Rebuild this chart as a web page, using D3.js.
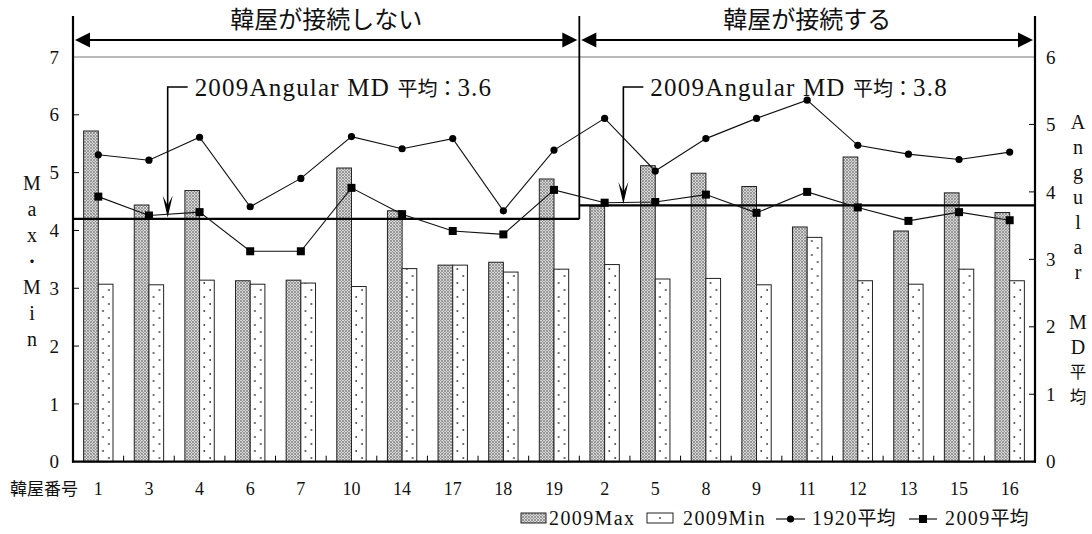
<!DOCTYPE html>
<html>
<head>
<meta charset="utf-8">
<script src="https://cdn.jsdelivr.net/npm/d3@7/dist/d3.min.js"></script>
<style>
  html, body { margin: 0; padding: 0; background: #fff; }
  svg { display: block; }
  text, tspan { font-family: "Liberation Serif", "Noto Sans CJK JP", serif; fill: #111; }
  .cjk { font-family: "Noto Sans CJK JP", sans-serif; letter-spacing: 0; }
</style>
</head>
<body>
<svg id="chart" width="1092" height="534"></svg>
<script>
// 韓屋番号 (house numbers), in drawing order
const houses = ["1","3","4","6","7","10","14","17","18","19","2","5","8","9","11","12","13","15","16"];

// Groups along the x axis
const groupLabels = ["韓屋が接続しない", "韓屋が接続する"];
const groupSizes  = [10, 9];
const groupMeans  = [3.6, 3.8];   // 2009 Angular MD 平均 for each group

// Left axis: Max / Min
const max2009 = [5.72,4.44,4.69,3.13,3.14,5.08,4.34,3.40,3.45,4.89, 4.42,5.12,4.99,4.76,4.06,5.27,3.99,4.65,4.31];
const min2009 = [3.07,3.06,3.14,3.07,3.09,3.03,3.34,3.40,3.28,3.33, 3.41,3.16,3.17,3.06,3.88,3.13,3.07,3.33,3.13];

// Right axis: Angular MD averages
const avg1920 = [4.55,4.47,4.81,3.78,4.20,4.82,4.64,4.79,3.72,4.62, 5.09,4.31,4.79,5.09,5.36,4.69,4.56,4.48,4.59];
const avg2009 = [3.93,3.65,3.70,3.12,3.12,4.06,3.67,3.42,3.37,4.03, 3.84,3.85,3.96,3.69,4.00,3.77,3.57,3.70,3.58];

const leftTicks  = [0,1,2,3,4,5,6,7];
const rightTicks = [0,1,2,3,4,5,6];
const leftTitle  = ["M","a","x","・","M","i","n"];
const rightTitle = ["A","n","g","u","l","a","r"," ","M","D","平","均"];
const legendLabels = ["2009Max", "2009Min", "1920平均", "2009平均"];

const svg = d3.select("#chart");

const x0 = 73, x1 = 1035, yTop = 57, yBase = 461.7, yHead = 16;

const x = d3.scaleBand().domain(houses).range([x0, x1]).paddingInner(0.42).paddingOuter(0.21);
const xs = d3.scaleBand().domain(["max","min"]).range([0, x.bandwidth()]);
const yL = d3.scaleLinear().domain([0, 7]).range([yBase, yTop]);
const yR = d3.scaleLinear().domain([0, 6]).range([yBase, yTop]);
const cx = h => x(h) + x.bandwidth() / 2;
const isCJK = s => /[\u3000-\u9fff]/.test(s);

// ---- patterns
const defs = svg.append("defs");
const pMax = defs.append("pattern").attr("id", "pMax").attr("patternUnits", "userSpaceOnUse")
  .attr("width", 3).attr("height", 3);
pMax.append("rect").attr("width", 3).attr("height", 3).attr("fill", "#d8d8d8");
pMax.append("circle").attr("cx", 1).attr("cy", 1).attr("r", 0.8).attr("fill", "#444");
pMax.append("circle").attr("cx", 2.5).attr("cy", 2.5).attr("r", 0.5).attr("fill", "#777");

const step = x.step();
const minOff = x.paddingOuter() * step + xs("min");
const pMin = defs.append("pattern").attr("id", "pMin").attr("patternUnits", "userSpaceOnUse")
  .attr("x", x0).attr("y", 0).attr("width", step).attr("height", 14);
pMin.append("rect").attr("width", step).attr("height", 14).attr("fill", "#fff");
pMin.append("circle").attr("cx", minOff + xs.bandwidth() * 0.32).attr("cy", 3).attr("r", 0.9).attr("fill", "#333");
pMin.append("circle").attr("cx", minOff + xs.bandwidth() * 0.72).attr("cy", 10).attr("r", 0.9).attr("fill", "#333");

// ---- top gridline (value 7)
svg.append("line").attr("x1", x0).attr("x2", x1).attr("y1", yL(7)).attr("y2", yL(7))
  .attr("stroke", "#777").attr("stroke-width", 1);

// ---- bars
const bars = svg.append("g");
houses.forEach((h, i) => {
  bars.append("rect").attr("x", x(h) + xs("max")).attr("y", yL(max2009[i]))
    .attr("width", xs.bandwidth()).attr("height", yBase - yL(max2009[i]))
    .attr("fill", "url(#pMax)").attr("stroke", "#222").attr("stroke-width", 1);
  bars.append("rect").attr("x", x(h) + xs("min")).attr("y", yL(min2009[i]))
    .attr("width", xs.bandwidth()).attr("height", yBase - yL(min2009[i]))
    .attr("fill", "url(#pMin)").attr("stroke", "#222").attr("stroke-width", 1);
});

// ---- group boundaries
const splitX = x0 + groupSizes[0] * step;
const groupRanges = [[x0, splitX], [splitX, x1]];

// group mean lines (right axis)
groupRanges.forEach((r, g) => {
  svg.append("line").attr("x1", r[0]).attr("x2", r[1])
    .attr("y1", yR(groupMeans[g])).attr("y2", yR(groupMeans[g]))
    .attr("stroke", "#000").attr("stroke-width", 2.2);
});

// ---- series lines
const line = d3.line().x(d => cx(d.h)).y(d => yR(d.v));
const s1920 = houses.map((h, i) => ({h, v: avg1920[i]}));
const s2009 = houses.map((h, i) => ({h, v: avg2009[i]}));
svg.append("path").datum(s1920).attr("d", line).attr("fill", "none").attr("stroke", "#111").attr("stroke-width", 1.1);
svg.append("path").datum(s2009).attr("d", line).attr("fill", "none").attr("stroke", "#111").attr("stroke-width", 1.1);
svg.append("g").selectAll("circle").data(s1920).join("circle")
  .attr("cx", d => cx(d.h)).attr("cy", d => yR(d.v)).attr("r", 3.6).attr("fill", "#000");
svg.append("g").selectAll("rect").data(s2009).join("rect")
  .attr("x", d => cx(d.h) - 4).attr("y", d => yR(d.v) - 4).attr("width", 8).attr("height", 8).attr("fill", "#000");

// ---- frame: axes and divider
svg.append("line").attr("x1", x0).attr("x2", x0).attr("y1", yHead).attr("y2", yBase + 1)
  .attr("stroke", "#000").attr("stroke-width", 2.2);
svg.append("line").attr("x1", x1).attr("x2", x1).attr("y1", yHead).attr("y2", yBase + 1)
  .attr("stroke", "#000").attr("stroke-width", 2.2);
svg.append("line").attr("x1", splitX).attr("x2", splitX).attr("y1", yHead).attr("y2", yR(groupMeans[0]))
  .attr("stroke", "#000").attr("stroke-width", 1.8);
svg.append("line").attr("x1", x0 - 1).attr("x2", x1 + 1).attr("y1", yBase).attr("y2", yBase)
  .attr("stroke", "#000").attr("stroke-width", 2.2);

// left ticks (inward)
svg.append("g").selectAll("line").data(leftTicks.slice(1, -1)).join("line")
  .attr("x1", x0).attr("x2", x0 + 6).attr("y1", d => yL(d)).attr("y2", d => yL(d))
  .attr("stroke", "#000").attr("stroke-width", 1);
svg.append("g").selectAll("text").data(leftTicks).join("text")
  .attr("x", x0 - 14).attr("y", d => yL(d)).attr("dy", "0.35em")
  .attr("text-anchor", "end").attr("font-size", 19).text(d => d);

// right ticks (inward)
svg.append("g").selectAll("line").data(rightTicks.slice(1, -1)).join("line")
  .attr("x1", x1 - 6).attr("x2", x1).attr("y1", d => yR(d)).attr("y2", d => yR(d))
  .attr("stroke", "#000").attr("stroke-width", 1);
svg.append("g").selectAll("text").data(rightTicks).join("text")
  .attr("x", x1 + 11).attr("y", d => yR(d)).attr("dy", "0.35em")
  .attr("text-anchor", "start").attr("font-size", 19).text(d => d);

// bottom ticks between houses (inward)
svg.append("g").selectAll("line").data(houses.slice(1)).join("line")
  .attr("x1", (d, i) => x0 + (i + 1) * step).attr("x2", (d, i) => x0 + (i + 1) * step)
  .attr("y1", yBase).attr("y2", yBase - 6).attr("stroke", "#000").attr("stroke-width", 1);

// house labels
svg.append("g").selectAll("text").data(houses).join("text")
  .attr("x", d => cx(d)).attr("y", 489).attr("dy", "0.35em")
  .attr("text-anchor", "middle").attr("font-size", 18).text(d => d);
svg.append("text").attr("class", "cjk").attr("x", 10).attr("y", 489).attr("dy", "0.35em")
  .attr("font-size", 17).text("韓屋番号");

// axis titles (stacked characters)
svg.append("g").selectAll("text").data(leftTitle).join("text")
  .attr("class", d => isCJK(d) ? "cjk" : null)
  .attr("x", 32).attr("y", (d, i) => 183 + i * 26).attr("dy", "0.35em")
  .attr("text-anchor", "middle").attr("font-size", d => isCJK(d) ? 16 : 20).text(d => d);
svg.append("g").selectAll("text").data(rightTitle).join("text")
  .attr("class", d => isCJK(d) ? "cjk" : null)
  .attr("x", 1078).attr("y", (d, i) => 122 + i * 25).attr("dy", "0.35em")
  .attr("text-anchor", "middle").attr("font-size", d => isCJK(d) ? 16.5 : 20).text(d => d);

// ---- header: group spans with double arrows
const headY = 40;
const arrowHead = (tipX, dir) => {
  // dir = -1 points left, +1 points right
  const b = tipX - dir * 15;
  return `M${tipX},${headY}L${b},${headY - 7.5}L${b},${headY + 7.5}Z`;
};
groupRanges.forEach((r, g) => {
  const a = r[0] + 2, b = r[1] - 2;
  svg.append("line").attr("x1", a + 10).attr("x2", b - 10).attr("y1", headY).attr("y2", headY)
    .attr("stroke", "#000").attr("stroke-width", 2);
  svg.append("path").attr("d", arrowHead(a, -1)).attr("fill", "#000");
  svg.append("path").attr("d", arrowHead(b, 1)).attr("fill", "#000");
  svg.append("text").attr("class", "cjk").attr("x", (r[0] + r[1]) / 2).attr("y", 20).attr("dy", "0.35em")
    .attr("text-anchor", "middle").attr("font-size", 24).text(groupLabels[g]);
});

// ---- callouts for the group means
const stealth = (tx, ty) => `M${tx},${ty}L${tx - 5},${ty - 22}L${tx},${ty - 12}L${tx + 5},${ty - 22}Z`;
groupRanges.forEach((r, g) => {
  const ax = x(houses[g === 0 ? 1 : 10]) + x.bandwidth() / 2 + step * 0.37;
  const ty = yR(groupMeans[g]) - 1.5;
  const topY = yTop + 30;
  svg.append("path").attr("d", `M${ax + 20},${topY}H${ax}V${ty - 8}`)
    .attr("fill", "none").attr("stroke", "#000").attr("stroke-width", 1.6);
  svg.append("path").attr("d", stealth(ax, ty)).attr("fill", "#000");
  const t = svg.append("text").attr("x", ax + 27).attr("y", topY).attr("dy", "0.36em")
    .attr("font-size", 25).attr("letter-spacing", 1.2);
  t.append("tspan").text("2009Angular MD ");
  t.append("tspan").attr("class", "cjk").attr("font-size", 20).text("平均：");
  t.append("tspan").text(d3.format(".1f")(groupMeans[g]));
});

// ---- legend
const ly = 518;
const lg = svg.append("g").attr("letter-spacing", 1.4);
// 2009Max swatch
lg.append("rect").attr("x", 521).attr("y", ly - 5).attr("width", 25).attr("height", 10)
  .attr("fill", "url(#pMax)").attr("stroke", "#222");
lg.append("text").attr("x", 549).attr("y", ly).attr("dy", "0.36em").attr("font-size", 20).text(legendLabels[0]);
// 2009Min swatch
lg.append("rect").attr("x", 647).attr("y", ly - 5).attr("width", 26).attr("height", 10)
  .attr("fill", "#fff").attr("stroke", "#222");
lg.append("circle").attr("cx", 660).attr("cy", ly).attr("r", 0.9).attr("fill", "#333");
lg.append("text").attr("x", 683).attr("y", ly).attr("dy", "0.36em").attr("font-size", 20).text(legendLabels[1]);
// 1920平均
lg.append("line").attr("x1", 776).attr("x2", 805).attr("y1", ly + 1).attr("y2", ly + 1).attr("stroke", "#000").attr("stroke-width", 1.1);
lg.append("circle").attr("cx", 790.5).attr("cy", ly + 1).attr("r", 3.6).attr("fill", "#000");
const t3 = lg.append("text").attr("x", 812).attr("y", ly).attr("dy", "0.36em").attr("font-size", 20);
t3.append("tspan").text(legendLabels[2].slice(0, 4));
t3.append("tspan").attr("class", "cjk").attr("font-size", 19).text(legendLabels[2].slice(4));
// 2009平均
lg.append("line").attr("x1", 909).attr("x2", 937).attr("y1", ly + 1).attr("y2", ly + 1).attr("stroke", "#000").attr("stroke-width", 1.1);
lg.append("rect").attr("x", 919).attr("y", ly - 3).attr("width", 8).attr("height", 8).attr("fill", "#000");
const t4 = lg.append("text").attr("x", 945).attr("y", ly).attr("dy", "0.36em").attr("font-size", 20);
t4.append("tspan").text(legendLabels[3].slice(0, 4));
t4.append("tspan").attr("class", "cjk").attr("font-size", 19).text(legendLabels[3].slice(4));
</script>
</body>
</html>
